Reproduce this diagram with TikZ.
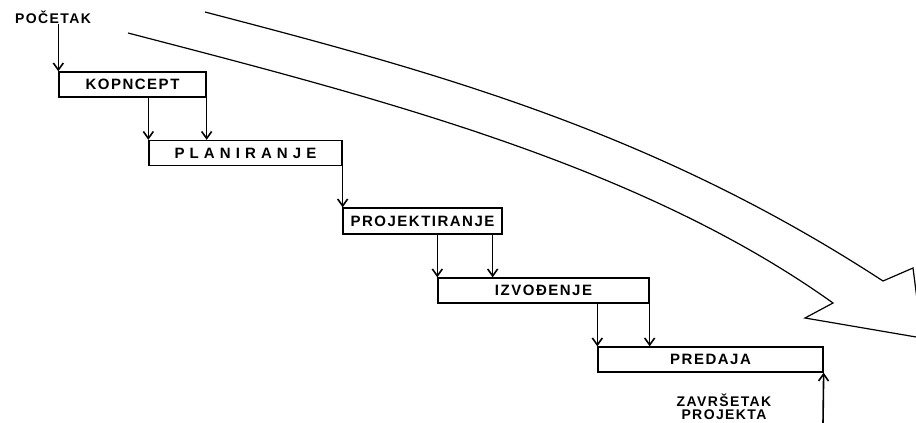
\documentclass[tikz,border=0pt]{standalone}
\usepackage{fontspec}
\usepackage{tikz}
\usetikzlibrary{arrows.meta}
\newfontfamily\fazafont[LetterSpace=10]{Liberation Sans}
\newfontfamily\sirokfont[LetterSpace=34]{Liberation Sans}

\begin{document}
\begin{tikzpicture}[x=1pt, y=-1pt,
    faza/.style={draw, line width=1.3pt, inner sep=0pt, minimum height=25pt, font=\fazafont\bfseries\fontsize{15}{15}\selectfont},
    tok/.style={line width=1.6pt, -{Straight Barb[length=7pt, width=10pt]}},
    oznaka/.style={font=\fazafont\bfseries\fontsize{14}{12.5}\selectfont, align=center, inner sep=0pt}]
    \useasboundingbox (0,0) rectangle (916,423);
    \clip (0,0) rectangle (916,423);

    % veliki luk
    \draw[line width=1.2pt] (205,12) .. controls (435,72) and (653,131) .. (883,281) -- (913,268) -- (922,338) -- (805,318) -- (833,303) .. controls (640,165) and (378,98) .. (128,33);

    \node[oznaka] (pocetak) at (53,17) {POČETAK};
    \node[faza, minimum width=147pt] (koncept) at (132.5,84.5) {KOPNCEPT};
    \node[faza, minimum width=193pt, font=\sirokfont\bfseries\fontsize{15}{15}\selectfont] (plan) at (245.5,153) {PLANIRANJE};
    \node[faza, minimum width=159pt, minimum height=26pt] (proj) at (422.5,221) {PROJEKTIRANJE};
    \node[faza, minimum width=211pt] (izv) at (543.5,290.5) {IZVOĐENJE};
    \node[faza, minimum width=225pt] (pred) at (710.5,359.5) {PREDAJA};
    \node[oznaka] (zavrsetak) at (724,407) {ZAVRŠETAK\\PROJEKTA};
    \coordinate (kraj) at (823,423);

    \draw[tok] (pocetak.south -| koncept.north west) -- (koncept.north west);
    \draw[tok] (koncept.south -| plan.north west) -- (plan.north west);
    \draw[tok] (koncept.south east) -- (koncept.south east |- plan.north);
    \draw[tok] (plan.south east) -- (plan.south east |- proj.north);
    \draw[tok] (proj.south -| izv.north west) -- (izv.north west);
    \draw[tok] ([xshift=-10pt]proj.south east) -- ([xshift=-10pt]proj.south east |- izv.north);
    \draw[tok] (izv.south -| pred.north west) -- (pred.north west);
    \draw[tok] (izv.south east) -- (izv.south east |- pred.north);
    \draw[tok] (kraj) -- (pred.south east);
\end{tikzpicture}
\end{document}
